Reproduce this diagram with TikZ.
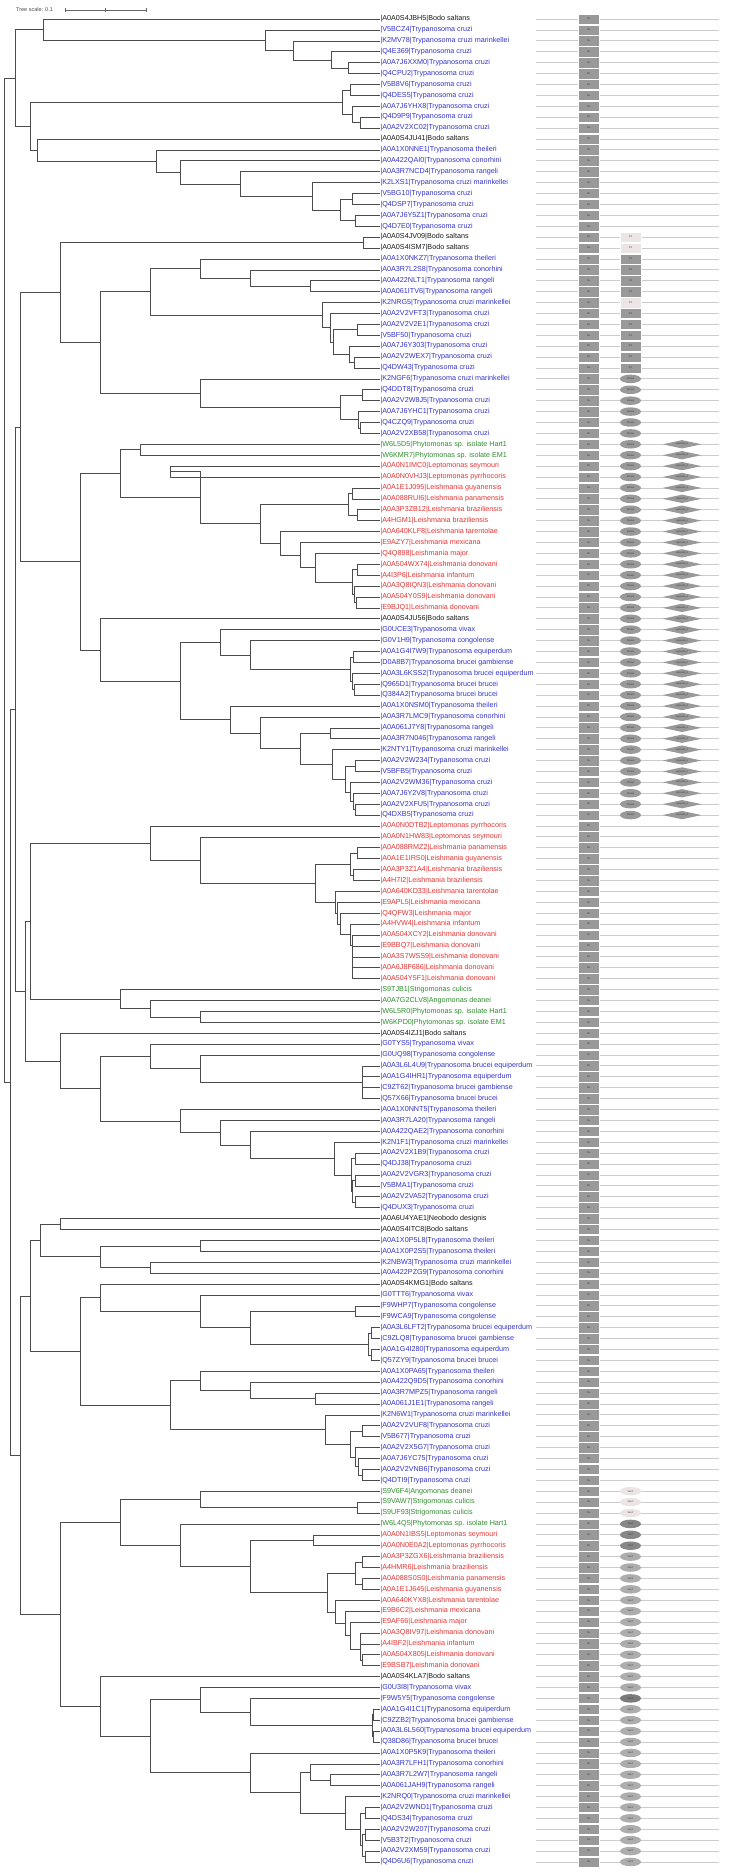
\documentclass[tikz,border=0pt]{standalone}
\usepackage{fontspec}
\setmainfont{Liberation Sans}
\usepackage{tikz}
\usetikzlibrary{calc,shapes.geometric,positioning}
\definecolor{kin}{rgb}{0.1,0.1,0.1}
\definecolor{tryp}{rgb}{0.2,0.2,0.8}
\definecolor{leish}{rgb}{0.9,0.2,0.2}
\definecolor{mono}{rgb}{0.18,0.55,0.18}
\definecolor{dom}{rgb}{0.6,0.6,0.6}
\definecolor{domlight}{rgb}{0.92,0.9,0.9}
\definecolor{domdark}{rgb}{0.53,0.53,0.53}
\definecolor{trackgray}{rgb}{0.8,0.8,0.8}
\newcommand{\lf}{\fontsize{7.2}{8}\selectfont}
\newcommand{\tf}{\fontsize{2.4}{3}\selectfont}
% internal node: name, x, children
\newcommand{\clade}[3]{%
  \foreach \c [count=\k] in {#3} {\ifnum\k=1 \xdef\cfirst{\c}\fi \xdef\clast{\c}}%
  \path let \p1=($(\cfirst)!.5!(\clast)$) in coordinate (#1) at (#2,\y1);%
  \foreach \c in {#3} {\draw[branch] (#1) |- (\c);}%
}

\begin{document}
\begin{tikzpicture}[x=1pt, y=-1pt,
  branch/.style={black!70, line width=0.6pt},
  leaf/.style={anchor=west, inner xsep=0.3pt, inner ysep=0pt, font=\lf},
  track/.style={trackgray, line width=0.8pt},
  phbox/.style={rectangle, fill=dom, draw=white, line width=0.4pt, minimum width=21pt, minimum height=10.4pt, inner sep=0pt, font=\tf, text=black!80},
  pxbox/.style={phbox},
  pinase/.style={ellipse, fill=dom, minimum width=21pt, minimum height=8.5pt, inner sep=0pt, font=\tf, text=black!80},
  lipo/.style={diamond, aspect=4.5, fill=dom, minimum width=39pt, minimum height=8.5pt, inner sep=0pt, font=\tf, text=black!80},
  vanx/.style={pinase, fill=dom!80},
  scaletext/.style={anchor=west, inner sep=0pt, font=\fontsize{5.5}{6}\selectfont, text=black!70}]
\useasboundingbox (0,0) rectangle (730,1873);

% Tree scale
\node[scaletext] (ts) at (16,10) {Tree scale: 0.1};
\coordinate (sb0) at (65,10);
\coordinate (sb1) at (146,10);
\coordinate (sbm) at ($(sb0)!.5!(sb1)$);
\draw[black!60, line width=0.5pt] (sb0) -- (sb1);
\foreach \p in {sb0,sbm,sb1} \draw[black!60, line width=0.5pt] ($(\p)+(0,-2)$) -- ($(\p)+(0,2)$);

% Leaves and domain tracks
\foreach \t/\c [count=\i] in {
{|A0A0S4JBH5|Bodo saltans}/kin,
{|V5BCZ4|Trypanosoma cruzi}/tryp,
{|K2MV78|Trypanosoma cruzi marinkellei}/tryp,
{|Q4E369|Trypanosoma cruzi}/tryp,
{|A0A7J6XXM0|Trypanosoma cruzi}/tryp,
{|Q4CPU2|Trypanosoma cruzi}/tryp,
{|V5B8V6|Trypanosoma cruzi}/tryp,
{|Q4DES5|Trypanosoma cruzi}/tryp,
{|A0A7J6YHX8|Trypanosoma cruzi}/tryp,
{|Q4D9P9|Trypanosoma cruzi}/tryp,
{|A0A2V2XC02|Trypanosoma cruzi}/tryp,
{|A0A0S4JU41|Bodo saltans}/kin,
{|A0A1X0NNE1|Trypanosoma theileri}/tryp,
{|A0A422QAI0|Trypanosoma conorhini}/tryp,
{|A0A3R7NCD4|Trypanosoma rangeli}/tryp,
{|K2LXS1|Trypanosoma cruzi marinkellei}/tryp,
{|V5BG10|Trypanosoma cruzi}/tryp,
{|Q4DSP7|Trypanosoma cruzi}/tryp,
{|A0A7J6Y5Z1|Trypanosoma cruzi}/tryp,
{|Q4D7E0|Trypanosoma cruzi}/tryp,
{|A0A0S4JV09|Bodo saltans}/kin,
{|A0A0S4ISM7|Bodo saltans}/kin,
{|A0A1X0NKZ7|Trypanosoma theileri}/tryp,
{|A0A3R7L2S8|Trypanosoma conorhini}/tryp,
{|A0A422NLT1|Trypanosoma rangeli}/tryp,
{|A0A061ITV6|Trypanosoma rangeli}/tryp,
{|K2NRG5|Trypanosoma cruzi marinkellei}/tryp,
{|A0A2V2VFT3|Trypanosoma cruzi}/tryp,
{|A0A2V2V2E1|Trypanosoma cruzi}/tryp,
{|V5BF50|Trypanosoma cruzi}/tryp,
{|A0A7J6Y303|Trypanosoma cruzi}/tryp,
{|A0A2V2WEX7|Trypanosoma cruzi}/tryp,
{|Q4DW43|Trypanosoma cruzi}/tryp,
{|K2NGF6|Trypanosoma cruzi marinkellei}/tryp,
{|Q4DDT8|Trypanosoma cruzi}/tryp,
{|A0A2V2W8J5|Trypanosoma cruzi}/tryp,
{|A0A7J6YHC1|Trypanosoma cruzi}/tryp,
{|Q4CZQ9|Trypanosoma cruzi}/tryp,
{|A0A2V2XB58|Trypanosoma cruzi}/tryp,
{|W6L5D5|Phytomonas sp. isolate Hart1}/mono,
{|W6KMR7|Phytomonas sp. isolate EM1}/mono,
{|A0A0N1IMC0|Leptomonas seymouri}/leish,
{|A0A0N0VHJ3|Leptomonas pyrrhocoris}/leish,
{|A0A1E1J095|Leishmania guyanensis}/leish,
{|A0A088RUI6|Leishmania panamensis}/leish,
{|A0A3P3ZB12|Leishmania braziliensis}/leish,
{|A4HGM1|Leishmania braziliensis}/leish,
{|A0A640KLF8|Leishmania tarentolae}/leish,
{|E9AZY7|Leishmania mexicana}/leish,
{|Q4Q898|Leishmania major}/leish,
{|A0A504WX74|Leishmania donovani}/leish,
{|A4I3P6|Leishmania infantum}/leish,
{|A0A3Q8IQN3|Leishmania donovani}/leish,
{|A0A504Y0S9|Leishmania donovani}/leish,
{|E9BJQ1|Leishmania donovani}/leish,
{|A0A0S4JU56|Bodo saltans}/kin,
{|G0UCE3|Trypanosoma vivax}/tryp,
{|G0V1H9|Trypanosoma congolense}/tryp,
{|A0A1G4I7W9|Trypanosoma equiperdum}/tryp,
{|D0A8B7|Trypanosoma brucei gambiense}/tryp,
{|A0A3L6KSS2|Trypanosoma brucei equiperdum}/tryp,
{|Q965D1|Trypanosoma brucei brucei}/tryp,
{|Q384A2|Trypanosoma brucei brucei}/tryp,
{|A0A1X0NSM0|Trypanosoma theileri}/tryp,
{|A0A3R7LMC9|Trypanosoma conorhini}/tryp,
{|A0A061J7Y8|Trypanosoma rangeli}/tryp,
{|A0A3R7N046|Trypanosoma rangeli}/tryp,
{|K2NTY1|Trypanosoma cruzi marinkellei}/tryp,
{|A0A2V2W234|Trypanosoma cruzi}/tryp,
{|V5BFB5|Trypanosoma cruzi}/tryp,
{|A0A2V2WM36|Trypanosoma cruzi}/tryp,
{|A0A7J6Y2V8|Trypanosoma cruzi}/tryp,
{|A0A2V2XFU5|Trypanosoma cruzi}/tryp,
{|Q4DXB5|Trypanosoma cruzi}/tryp,
{|A0A0N0DTB2|Leptomonas pyrrhocoris}/leish,
{|A0A0N1HW83|Leptomonas seymouri}/leish,
{|A0A088RMZ2|Leishmania panamensis}/leish,
{|A0A1E1IRS0|Leishmania guyanensis}/leish,
{|A0A3P3Z1A4|Leishmania braziliensis}/leish,
{|A4H7I2|Leishmania braziliensis}/leish,
{|A0A640KD33|Leishmania tarentolae}/leish,
{|E9APL5|Leishmania mexicana}/leish,
{|Q4QFW3|Leishmania major}/leish,
{|A4HVW4|Leishmania infantum}/leish,
{|A0A504XCY2|Leishmania donovani}/leish,
{|E9BBQ7|Leishmania donovani}/leish,
{|A0A3S7WSS9|Leishmania donovani}/leish,
{|A0A6J8F686|Leishmania donovani}/leish,
{|A0A504Y5F1|Leishmania donovani}/leish,
{|S9TJB1|Strigomonas culicis}/mono,
{|A0A7G2CLV8|Angomonas deanei}/mono,
{|W6L5R0|Phytomonas sp. isolate Hart1}/mono,
{|W6KPD0|Phytomonas sp. isolate EM1}/mono,
{|A0A0S4IZJ1|Bodo saltans}/kin,
{|G0TYS5|Trypanosoma vivax}/tryp,
{|G0UQ98|Trypanosoma congolense}/tryp,
{|A0A3L6L4U9|Trypanosoma brucei equiperdum}/tryp,
{|A0A1G4IHR1|Trypanosoma equiperdum}/tryp,
{|C9ZT62|Trypanosoma brucei gambiense}/tryp,
{|Q57X66|Trypanosoma brucei brucei}/tryp,
{|A0A1X0NNT5|Trypanosoma theileri}/tryp,
{|A0A3R7LA20|Trypanosoma rangeli}/tryp,
{|A0A422QAE2|Trypanosoma conorhini}/tryp,
{|K2N1F1|Trypanosoma cruzi marinkellei}/tryp,
{|A0A2V2X1B9|Trypanosoma cruzi}/tryp,
{|Q4DJ38|Trypanosoma cruzi}/tryp,
{|A0A2V2VGR3|Trypanosoma cruzi}/tryp,
{|V5BMA1|Trypanosoma cruzi}/tryp,
{|A0A2V2VA52|Trypanosoma cruzi}/tryp,
{|Q4DUX3|Trypanosoma cruzi}/tryp,
{|A0A6U4YAE1|Neobodo designis}/kin,
{|A0A0S4ITC8|Bodo saltans}/kin,
{|A0A1X0P5L8|Trypanosoma theileri}/tryp,
{|A0A1X0P2S5|Trypanosoma theileri}/tryp,
{|K2NBW3|Trypanosoma cruzi marinkellei}/tryp,
{|A0A422PZG9|Trypanosoma conorhini}/tryp,
{|A0A0S4KMG1|Bodo saltans}/kin,
{|G0TTT6|Trypanosoma vivax}/tryp,
{|F9WHP7|Trypanosoma congolense}/tryp,
{|F9WCA9|Trypanosoma congolense}/tryp,
{|A0A3L6LFT2|Trypanosoma brucei equiperdum}/tryp,
{|C9ZLQ8|Trypanosoma brucei gambiense}/tryp,
{|A0A1G4I280|Trypanosoma equiperdum}/tryp,
{|Q57ZY9|Trypanosoma brucei brucei}/tryp,
{|A0A1X0PA65|Trypanosoma theileri}/tryp,
{|A0A422Q9D5|Trypanosoma conorhini}/tryp,
{|A0A3R7MPZ5|Trypanosoma rangeli}/tryp,
{|A0A061J1E1|Trypanosoma rangeli}/tryp,
{|K2N6W1|Trypanosoma cruzi marinkellei}/tryp,
{|A0A2V2VUF8|Trypanosoma cruzi}/tryp,
{|V5B677|Trypanosoma cruzi}/tryp,
{|A0A2V2X5G7|Trypanosoma cruzi}/tryp,
{|A0A7J6YC75|Trypanosoma cruzi}/tryp,
{|A0A2V2VNB6|Trypanosoma cruzi}/tryp,
{|Q4DTI9|Trypanosoma cruzi}/tryp,
{|S9V6F4|Angomonas deanei}/mono,
{|S9VAW7|Strigomonas culicis}/mono,
{|S9UF93|Strigomonas culicis}/mono,
{|W6L4Q5|Phytomonas sp. isolate Hart1}/mono,
{|A0A0N1IBS5|Leptomonas seymouri}/leish,
{|A0A0N0E0A2|Leptomonas pyrrhocoris}/leish,
{|A0A3P3ZGX6|Leishmania braziliensis}/leish,
{|A4HMR6|Leishmania braziliensis}/leish,
{|A0A088S0S0|Leishmania panamensis}/leish,
{|A0A1E1J645|Leishmania guyanensis}/leish,
{|A0A640KYX8|Leishmania tarentolae}/leish,
{|E9B6C2|Leishmania mexicana}/leish,
{|E9AF66|Leishmania major}/leish,
{|A0A3Q8IV97|Leishmania donovani}/leish,
{|A4IBF2|Leishmania infantum}/leish,
{|A0A504X805|Leishmania donovani}/leish,
{|E9BSB7|Leishmania donovani}/leish,
{|A0A0S4KLA7|Bodo saltans}/kin,
{|G0U3I8|Trypanosoma vivax}/tryp,
{|F9W5Y5|Trypanosoma congolense}/tryp,
{|A0A1G4I1C1|Trypanosoma equiperdum}/tryp,
{|C9ZZB2|Trypanosoma brucei gambiense}/tryp,
{|A0A3L6L560|Trypanosoma brucei equiperdum}/tryp,
{|Q38D86|Trypanosoma brucei brucei}/tryp,
{|A0A1X0P5K9|Trypanosoma theileri}/tryp,
{|A0A3R7LFH1|Trypanosoma conorhini}/tryp,
{|A0A3R7L2W7|Trypanosoma rangeli}/tryp,
{|A0A061JAH9|Trypanosoma rangeli}/tryp,
{|K2NRQ0|Trypanosoma cruzi marinkellei}/tryp,
{|A0A2V2WND1|Trypanosoma cruzi}/tryp,
{|Q4DS34|Trypanosoma cruzi}/tryp,
{|A0A2V2W207|Trypanosoma cruzi}/tryp,
{|V5B3T2|Trypanosoma cruzi}/tryp,
{|A0A2V2XM59|Trypanosoma cruzi}/tryp,
{|Q4D6U6|Trypanosoma cruzi}/tryp} {
  \pgfmathsetmacro\yy{19+(\i-1)*10.905}
  \node[leaf, text=\c] (l\i) at (380,\yy) {\t};
  \draw[track] (536,\yy) -- (719,\yy);
  \node[phbox] (ph\i) at (588.5,\yy) {PH};
}

% second and third domain columns
\foreach \i in {23,24,25,26,28,29,30,31,32,33}
  \node[pxbox] (px\i) at (630.5,{19+(\i-1)*10.905}) {PX};
\foreach \i in {21,22,27}
  \node[pxbox, fill=domlight] (px\i) at (630.5,{19+(\i-1)*10.905}) {PX};
\foreach \i in {34,...,74}
  \node[pinase] (pk\i) at (630.5,{19+(\i-1)*10.905}) {Pinase};
\foreach \i in {40,...,74}
  \node[lipo] (lc\i) at (682,{19+(\i-1)*10.905}) {Lipocalin\_2};
\foreach \i in {136,137,138}
  \node[vanx, fill=domlight] (vx\i) at (630.5,{19+(\i-1)*10.905}) {VanY};
\foreach \i in {139,140,141}
  \node[vanx, fill=domdark] (vx\i) at (630.5,{19+(\i-1)*10.905}) {VanY};
\foreach \i in {142,...,154,156,157,...,170}
  \node[vanx] (vx\i) at (630.5,{19+(\i-1)*10.905}) {VanY};
\node[vanx, fill=domdark!90!black] (vx155) at (630.5,{19+154*10.905}) {VanY};

% block 1-20
\clade{a4}{348}{l5,l6}
\clade{a3}{331}{l4,a4}
\clade{a2}{293}{l3,a3}
\clade{a1}{265}{l2,a2}
\clade{a0}{43}{l1,a1}
\clade{b3}{360}{l10,l11}
\clade{b2}{352}{l9,b3}
\clade{b1}{350}{l7,l8}
\clade{b0}{342}{b1,b2}
\clade{c6}{355}{l19,l20}
\clade{c5}{352}{l17,l18}
\clade{c4}{340}{c5,c6}
\clade{c3}{312}{l16,c4}
\clade{c2}{240}{l15,c3}
\clade{c1}{180}{l14,c2}
\clade{c0}{156}{l13,c1}
\clade{cb}{37}{l12,c0}
\clade{bb1}{30}{b0,cb}
\clade{bb2}{15}{a0,bb1}

% block 21-39
\clade{d0}{363}{l21,l22}
\clade{d1}{310}{l25,l26}
\clade{d2}{250}{l24,d1}
\clade{d3}{200}{l23,d2}
\clade{d7}{354}{l32,l33}
\clade{d6}{349}{l31,d7}
\clade{d5}{357}{l29,l30}
\clade{d4}{333}{d5,d6}
\clade{d8}{330}{l28,d4}
\clade{d9}{322}{l27,d8}
\clade{d10}{150}{d3,d9}
\clade{e3}{360}{l38,l39}
\clade{e2}{358}{l37,e3}
\clade{e1}{362}{l35,l36}
\clade{e0}{340}{e1,e2}
\clade{e4}{200}{l34,e0}
\clade{e5}{100}{d10,e4}
\clade{e6}{60}{d0,e5}

% block 40-74
\clade{f0}{140}{l40,l41}
\clade{f1}{170}{l42,l43}
\clade{f2}{352}{l44,l45}
\clade{f3}{357}{l46,l47}
\clade{f4}{348}{f2,f3}
\clade{f5}{357}{l51,l52}
\clade{f6}{356}{l54,l55}
\clade{f7}{354}{l53,f6}
\clade{f8}{352}{f5,f7}
\clade{f9}{315}{l50,f8}
\clade{f10}{300}{l49,f9}
\clade{f11}{280}{l48,f10}
\clade{f12}{260}{f4,f11}
\clade{f13}{200}{f1,f12}
\clade{f14}{120}{f0,f13}
\clade{g1}{353}{l59,l60}
\clade{g2}{354}{l62,l63}
\clade{g3}{352}{l61,g2}
\clade{g4}{350}{g1,g3}
\clade{g5}{250}{l58,g4}
\clade{g6}{220}{l57,g5}
\clade{h1}{330}{l66,l67}
\clade{h2}{355}{l69,l70}
\clade{h3}{355}{l73,l74}
\clade{h4}{353}{l72,h3}
\clade{h5}{350}{l71,h4}
\clade{h6}{345}{h2,h5}
\clade{h7}{332}{l68,h6}
\clade{h8}{300}{h1,h7}
\clade{h9}{260}{l65,h8}
\clade{h10}{230}{l64,h9}
\clade{h11}{180}{g6,h10}
\clade{h12}{100}{l56,h11}
\clade{fh}{80}{f14,h12}
\clade{bb3}{20}{e6,fh}

% block 75-110
\clade{i1}{357}{l77,l78}
\clade{i2}{353}{l79,l80}
\clade{i3}{350}{i1,i2}
\clade{i4}{352}{l88,l89}
\clade{i5}{352}{l87,i4}
\clade{i6}{352}{l86,i5}
\clade{i7}{352}{l85,i6}
\clade{i8}{350}{l84,i7}
\clade{i9}{340}{l83,i8}
\clade{i10}{337}{l82,i9}
\clade{i11}{335}{l81,i10}
\clade{i12}{315}{i3,i11}
\clade{i13}{200}{l76,i12}
\clade{i14}{150}{l75,i13}
\clade{j1}{200}{l92,l93}
\clade{j2}{150}{l91,j1}
\clade{j3}{120}{l90,j2}
\clade{k1}{362}{l97,l98,l99,l100}
\clade{k2}{200}{l96,k1}
\clade{k3}{150}{l95,k2}
\clade{k4}{355}{l105,l106}
\clade{k5}{355}{l107,l108}
\clade{k6}{355}{l109,l110}
\clade{k7}{352}{k5,k6}
\clade{k8}{351}{k4,k7}
\clade{k9}{334}{l104,k8}
\clade{k10}{250}{l103,k9}
\clade{k11}{220}{l102,k10}
\clade{k12}{180}{l101,k11}
\clade{k13}{100}{k3,k12}
\clade{k14}{60}{l94,k13}
\clade{bb4}{30}{i14,j3}
\clade{bb5}{25}{bb4,k14}
\clade{bb6}{15}{bb3,bb5}

% block 111-135
\clade{m0}{60}{l111,l112}
\clade{m1}{200}{l113,l114}
\clade{m2}{150}{l115,l116}
\clade{m3}{100}{m1,m2}
\clade{n1}{355}{l119,l120}
\clade{n2}{371}{l121,l122}
\clade{n3}{371}{l123,l124}
\clade{n4}{368}{n2,n3}
\clade{n5}{250}{n1,n4}
\clade{n6}{200}{l118,n5}
\clade{n7}{100}{l117,n6}
\clade{n8}{315}{l127,l128}
\clade{n9}{250}{l126,n8}
\clade{n10}{200}{l125,n9}
\clade{n11}{362}{l130,l131}
\clade{n12}{362}{l134,l135}
\clade{n13}{358}{l133,n12}
\clade{n14}{355}{l132,n13}
\clade{n15}{350}{n11,n14}
\clade{n16}{325}{l129,n15}
\clade{n17}{170}{n10,n16}
\clade{n18}{80}{n7,n17}
\clade{bb7}{40}{m0,m3}
\clade{bb8}{30}{bb7,n18}

% block 136-170
\clade{o1}{357}{l137,l138}
\clade{o2}{200}{l136,o1}
\clade{o4}{313}{l140,l141}
\clade{o5}{362}{l142,l143}
\clade{o6}{362}{l144,l145}
\clade{o7}{355}{o5,o6}
\clade{o9}{360}{l149,l150}
\clade{o10}{362}{l151,l152}
\clade{o11}{360}{o9,o10}
\clade{o12}{350}{l148,o11}
\clade{o13}{345}{l147,o12}
\clade{o14}{335}{l146,o13}
\clade{o15}{327}{o7,o14}
\clade{o16}{250}{o4,o15}
\clade{o17}{180}{l139,o16}
\clade{o18}{120}{o2,o17}
\clade{p1}{373}{l156,l157}
\clade{p2}{373}{l158,l159}
\clade{p3}{372}{p1,p2}
\clade{p4}{250}{l155,p3}
\clade{p5}{200}{l154,p4}
\clade{p6}{330}{l162,l163}
\clade{p7}{310}{l161,p6}
\clade{p8}{365}{l165,l166}
\clade{p9}{365}{l167,l168}
\clade{p10}{365}{l169,l170}
\clade{p11}{362}{p9,p10}
\clade{p12}{360}{p8,p11}
\clade{p13}{345}{l164,p12}
\clade{p14}{300}{p7,p13}
\clade{p15}{250}{l160,p14}
\clade{p16}{150}{p5,p15}
\clade{p17}{100}{l153,p16}
\clade{ko}{60}{o18,p17}
\clade{bb9}{20}{bb8,ko}
\clade{bb10}{10}{bb6,bb9}
\clade{root}{4}{bb2,bb10}
\end{tikzpicture}
\end{document}
